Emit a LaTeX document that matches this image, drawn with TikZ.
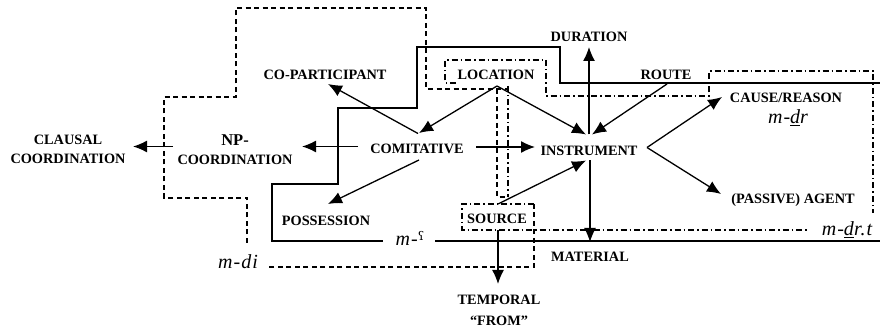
\documentclass[tikz,border=0pt]{standalone}
\usepackage{fontspec}
\setmainfont{Liberation Serif}
\newfontfamily\ipafont{DejaVu Serif}
\newfontfamily\morphfont[LetterSpace=5]{Liberation Serif}
\usetikzlibrary{arrows.meta,calc}
\begin{document}
\begin{tikzpicture}[x=1pt,y=-1pt,
  lbl/.style={font=\bfseries\fontsize{14.3}{19}\selectfont, align=center, inner sep=1pt},
  morph/.style={font=\morphfont\itshape\fontsize{20}{22}\selectfont, inner sep=1pt, anchor=base},
  arr/.style={-{Latex[length=14pt,width=12pt]}, line width=1.3pt},
  bound/.style={line width=1.5pt},
  dsh/.style={line width=1.2pt, dash pattern=on 5pt off 3.5pt},
  dshdot/.style={line width=1.2pt, dash pattern=on 6pt off 3pt on 1.5pt off 3pt}]
\useasboundingbox (0,0) rectangle (880,328);

% region boundaries
\draw[bound] (880,83) -- (560,83) -- (560,47) -- (417,47) -- (417,108) -- (338,108)
  -- (338,184) -- (272,184) -- (272,241) -- (383,241);
\draw[bound] (435,241) -- (880,241);

\draw[dsh] (247,243) -- (247,198) -- (164,198) -- (164,97) -- (236,97) -- (236,8)
  -- (426,8) -- (426,89) -- (509,89);
\draw[dsh] (497,89) -- (497,197) -- (508,197);
\draw[dsh] (534,204) -- (534,267) -- (268,267);

\draw[dshdot] (456,83) -- (445,83) -- (445,60) -- (546,60) -- (546,96) -- (709,96)
  -- (709,71) -- (873,71) -- (873,213);
\draw[dshdot] (508,86) -- (508,197);
\draw[dshdot] (534,204) -- (462,204) -- (462,230) -- (808,230);

% labels
\node[lbl] (clausal) at (68,149.5) {CLAUSAL\\COORDINATION};
\node[lbl] (npc) at (235,149.5) {{\fontsize{16.5}{19}\selectfont NP-}\\COORDINATION};
\node[lbl] (copart) at (325,75) {CO-PARTICIPANT};
\node[lbl] (comit) at (417,148.5) {COMITATIVE};
\node[lbl] (loc) at (496,75) {LOCATION};
\node[lbl] (dur) at (589,37) {DURATION};
\node[lbl] (route) at (666,75) {ROUTE};
\node[lbl] (cause) at (786,98) {CAUSE/REASON};
\node[morph] (mdr) at (788,124) {m-\underline{d}r};
\node[lbl] (instr) at (589,150.5) {INSTRUMENT};
\node[lbl] (agent) at (793,200) {(PASSIVE) AGENT};
\node[lbl] (poss) at (326,221) {POSSESSION};
\node[lbl] (source) at (497,219) {SOURCE};
\node[lbl] (material) at (590,257) {MATERIAL};
\node[lbl, font=\bfseries\fontsize{14.3}{21}\selectfont] (temporal) at (499,310) {TEMPORAL\\“FROM”};
\node[morph] (mayn) at (410,245.5) {m-\raisebox{5pt}{\ipafont\upshape\fontsize{12}{12}\selectfont ʕ}};
\node[morph] (mdrt) at (847,236) {m-\underline{d}r.t};
\node[morph] (mdi) at (238,269) {m-di};

% connectors
\draw[arr] ($(comit)+(-59,-2)$) -- ($(npc)+(67,-3)$);
\draw[arr] ($(npc)+(-62,-3)$) -- ($(clausal)+(65,-3)$);
\draw[arr] ($(comit)+(1,-15)$) -- ($(copart)+(3,9)$);
\draw[arr] ($(loc)+(1,11)$) -- ($(comit)+(2,-15.5)$);
\draw[arr] ($(loc)+(1,11)$) -- ($(instr)+(-3,-16)$);
\draw[arr] ($(instr)+(0,-16)$) -- ($(dur)+(0,10)$);
\draw[arr] ($(route)+(1,9)$) -- ($(instr)+(3,-16)$);
\draw[arr] ($(comit)+(59,-1.5)$) -- ($(instr)+(-54,-3.5)$);
\draw[arr] ($(instr)+(58,-3)$) -- ($(cause)+(-64,-1)$);
\draw[arr] ($(instr)+(58,-3)$) -- ($(agent)+(-72,-6)$);
\draw[arr] ($(comit)+(2,11.5)$) -- ($(poss)+(2,-17)$);
\draw[arr] ($(source)+(1,-15)$) -- ($(instr)+(-3,10)$);
\draw[arr] ($(instr)+(1,10)$) -- ($(material)+(0,-15)$);
\draw[arr] ($(source)+(1,11)$) -- ($(temporal)+(-1,-26)$);
\end{tikzpicture}
\end{document}
